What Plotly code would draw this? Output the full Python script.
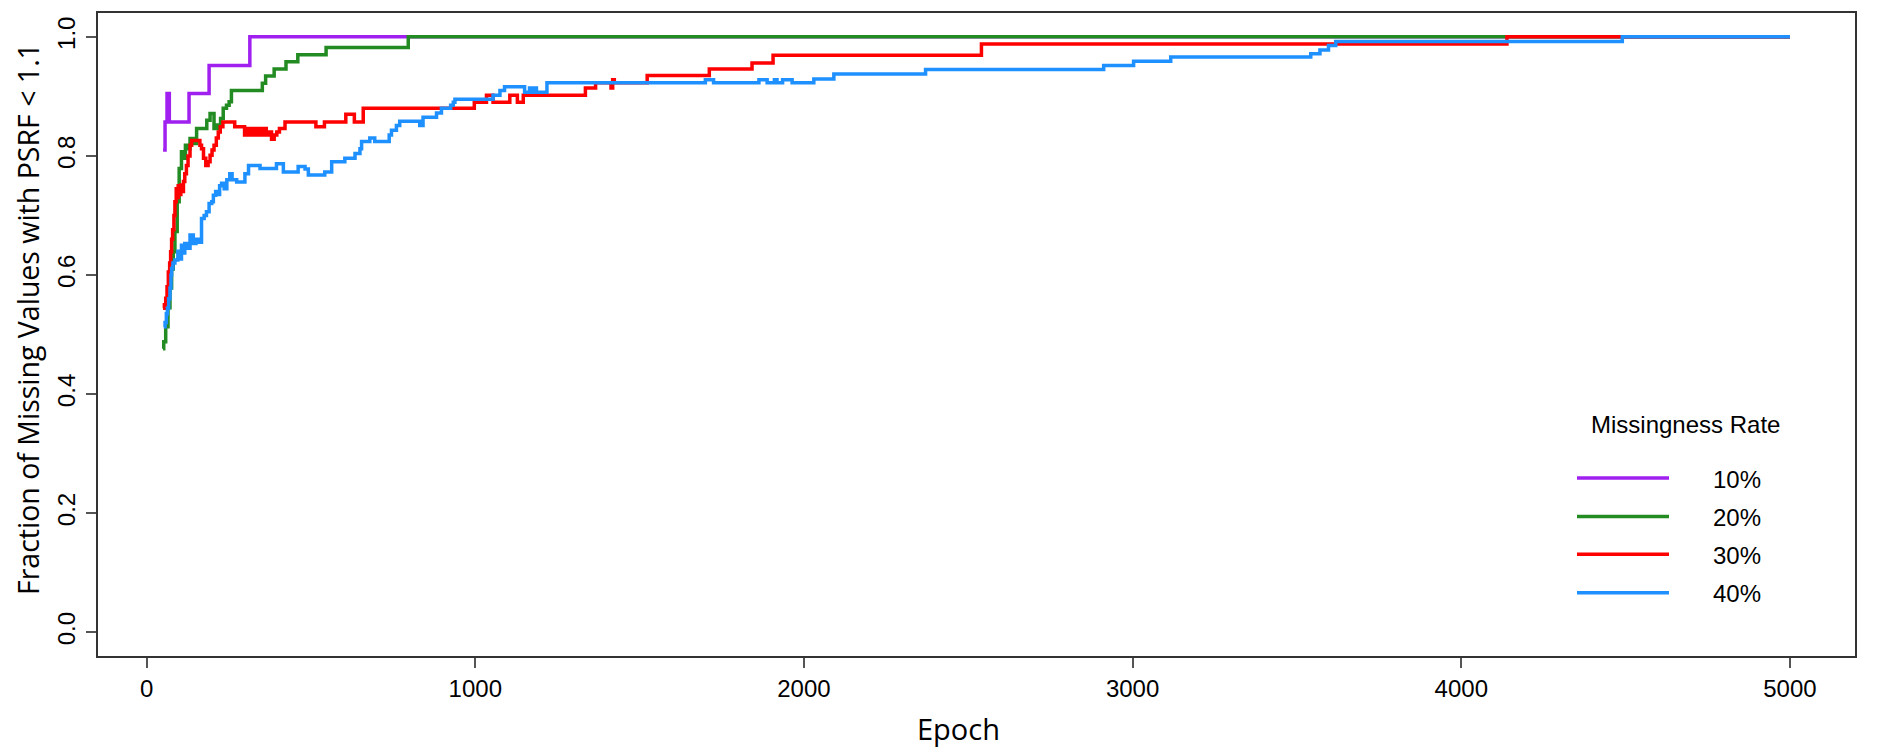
import plotly.graph_objects as go

# Convergence traces: epoch breakpoints and fraction of missing values with PSRF < 1.1
# (drawn as step lines)
epoch_10 = [50, 56, 62, 69, 129, 190, 314, 5000]
frac_10 = [0.810, 0.857, 0.905, 0.857, 0.905, 0.952, 1.0, 1.0]

epoch_20 = [50, 52, 58, 65, 71, 76, 81, 86, 93, 99, 106, 112, 118, 125, 132, 142, 152,
            183, 193, 205, 215, 225, 233, 243, 251, 258, 352, 362, 388, 424, 460, 546,
            796, 5000]
frac_20 = [0.476, 0.488, 0.513, 0.545, 0.578, 0.610, 0.639, 0.673, 0.723, 0.779, 0.807,
           0.796, 0.818, 0.812, 0.829, 0.821, 0.846, 0.860, 0.871, 0.846, 0.852, 0.863,
           0.880, 0.885, 0.891, 0.910, 0.922, 0.934, 0.946, 0.958, 0.970, 0.982, 1.0, 1.0]

epoch_30 = [50, 54, 58, 62, 66, 70, 73, 76, 79, 83, 86, 90, 93, 96, 100, 104, 108, 112,
            116, 121, 126, 132, 137, 162, 167, 173, 180, 187, 193, 199, 205, 212, 218,
            224, 232, 268, 298, 304, 310, 316, 322, 328, 336, 342, 350, 356, 364, 372,
            380, 388, 396, 404, 421, 515, 541, 606, 632, 659, 997, 1034, 1054, 1105,
            1128, 1146, 1335, 1366, 1413, 1418, 1423, 1523, 1712, 1842, 1906, 2540,
            4139, 5000]
frac_30 = [0.544, 0.550, 0.561, 0.580, 0.605, 0.620, 0.639, 0.660, 0.676, 0.700, 0.723,
           0.745, 0.730, 0.750, 0.735, 0.751, 0.740, 0.757, 0.770, 0.784, 0.800, 0.818,
           0.826, 0.818, 0.812, 0.796, 0.784, 0.790, 0.801, 0.810, 0.818, 0.830, 0.840,
           0.849, 0.857, 0.849, 0.835, 0.846, 0.835, 0.846, 0.835, 0.846, 0.835, 0.846,
           0.835, 0.846, 0.835, 0.840, 0.828, 0.835, 0.840, 0.846, 0.857, 0.849, 0.857,
           0.870, 0.857, 0.880, 0.890, 0.902, 0.890, 0.902, 0.890, 0.902, 0.914, 0.923,
           0.914, 0.928, 0.923, 0.935, 0.946, 0.956, 0.969, 0.988, 1.0, 1.0]

epoch_40 = [52, 56, 60, 63, 67, 71, 74, 76, 80, 86, 95, 100, 106, 111, 116, 122, 132,
            142, 150, 158, 167, 175, 182, 190, 198, 203, 210, 216, 222, 228, 236, 244,
            253, 260, 274, 299, 310, 345, 395, 416, 461, 482, 492, 542, 563, 603, 634,
            649, 654, 679, 694, 738, 745, 760, 770, 831, 841, 882, 897, 925, 933, 938,
            1054, 1075, 1089, 1150, 1165, 1172, 1180, 1186, 1218, 1700, 1725, 1863,
            1888, 1910, 1918, 1935, 1964, 2030, 2091, 2370, 2912, 3003, 3116, 3542,
            3570, 3596, 3618, 4490, 5000]
frac_40 = [0.513, 0.520, 0.535, 0.544, 0.560, 0.578, 0.600, 0.611, 0.620, 0.625, 0.640,
           0.627, 0.650, 0.637, 0.653, 0.645, 0.667, 0.653, 0.660, 0.655, 0.695, 0.700,
           0.706, 0.720, 0.723, 0.734, 0.740, 0.735, 0.750, 0.754, 0.745, 0.760, 0.770,
           0.760, 0.756, 0.770, 0.784, 0.779, 0.787, 0.773, 0.782, 0.778, 0.768, 0.773,
           0.790, 0.796, 0.804, 0.812, 0.824, 0.830, 0.824, 0.835, 0.843, 0.851, 0.858,
           0.851, 0.865, 0.872, 0.880, 0.885, 0.890, 0.895, 0.902, 0.910, 0.916, 0.907,
           0.914, 0.907, 0.914, 0.907, 0.923, 0.928, 0.923, 0.928, 0.923, 0.928, 0.923,
           0.928, 0.923, 0.929, 0.9375, 0.945, 0.952, 0.959, 0.966, 0.9715, 0.978,
           0.9855, 0.992, 1.0, 1.0]

rate_labels = ["10%", "20%", "30%", "40%"]
colors = ["#A020F0", "#228B22", "#FF0000", "#1E90FF"]

# page geometry in pixels; the html body has an 8px default margin
PAGE_W, PAGE_H, OFF = 1885, 754, 8
PLOT_L, PLOT_R, PLOT_T, PLOT_B = 98, 1855, 11, 656
W, H = PAGE_W - OFF, PAGE_H - OFF
PW, PH = PLOT_R - PLOT_L, PLOT_B - PLOT_T


def px_x(px):
    return (px - PLOT_L) / PW


def px_y(py):
    return (PLOT_B - py) / PH


tick_font = dict(family="Arial, Liberation Sans, sans-serif", size=24, color="black")
title_font = dict(family="Open Sans, Noto Sans, sans-serif", size=29, color="black")

fig = go.Figure()
series = [(epoch_10, frac_10), (epoch_20, frac_20), (epoch_30, frac_30), (epoch_40, frac_40)]
for (xs, ys), col, name in zip(series, colors, rate_labels):
    fig.add_trace(go.Scatter(
        x=xs, y=ys, mode="lines", name=name, showlegend=False,
        line=dict(color=col, width=3.5, shape="hv"),
    ))

# hand-drawn legend, R style (long line samples, no frame)
shapes = []
annotations = [dict(
    text="Missingness Rate", x=px_x(1685), y=px_y(424), xref="paper", yref="paper",
    showarrow=False, xanchor="center", yanchor="middle", font=tick_font,
)]
for i, (col, lab) in enumerate(zip(colors, rate_labels)):
    ly = [477.5, 516, 554, 592.5][i]
    shapes.append(dict(type="line", xref="paper", yref="paper",
                       x0=px_x(1577), x1=px_x(1669), y0=px_y(ly), y1=px_y(ly),
                       line=dict(color=col, width=3.5)))
    annotations.append(dict(text=lab, x=px_x(1737), y=px_y(ly + 1), xref="paper",
                            yref="paper", showarrow=False, xanchor="center",
                            yanchor="middle", font=tick_font))

# axis titles
annotations.append(dict(text="Epoch", x=px_x(958), y=px_y(729), xref="paper", yref="paper",
                        showarrow=False, xanchor="center", yanchor="middle", font=title_font))
annotations.append(dict(text="Fraction of Missing Values with PSRF < 1.1", x=px_x(28),
                        y=px_y(318), xref="paper", yref="paper", showarrow=False,
                        textangle=-90, xanchor="center", yanchor="middle",
                        font=dict(title_font, size=28.5)))

fig.update_layout(
    width=W, height=H,
    margin=dict(l=PLOT_L - OFF, r=PAGE_W - PLOT_R, t=PLOT_T - OFF, b=PAGE_H - PLOT_B, pad=0),
    paper_bgcolor="white", plot_bgcolor="white",
    shapes=shapes, annotations=annotations,
    showlegend=False,
)
fig.update_xaxes(
    range=[-148, 5198], tickvals=[0, 1000, 2000, 3000, 4000, 5000],
    ticks="outside", ticklen=10, tickwidth=1.5, tickcolor="#555",
    showline=True, linecolor="#333", linewidth=1.5, mirror=True,
    showgrid=False, zeroline=False, tickfont=tick_font,
)
fig.update_yaxes(
    range=[-0.04, 1.04], tickvals=[0, 0.2, 0.4, 0.6, 0.8, 1.0], tickformat=".1f",
    tickangle=-90, ticks="outside", ticklen=10, tickwidth=1.5, tickcolor="#555",
    showline=True, linecolor="#333", linewidth=1.5, mirror=True,
    showgrid=False, zeroline=False, tickfont=tick_font, ticklabelstandoff=2,
)

fig.write_html("out.html")
